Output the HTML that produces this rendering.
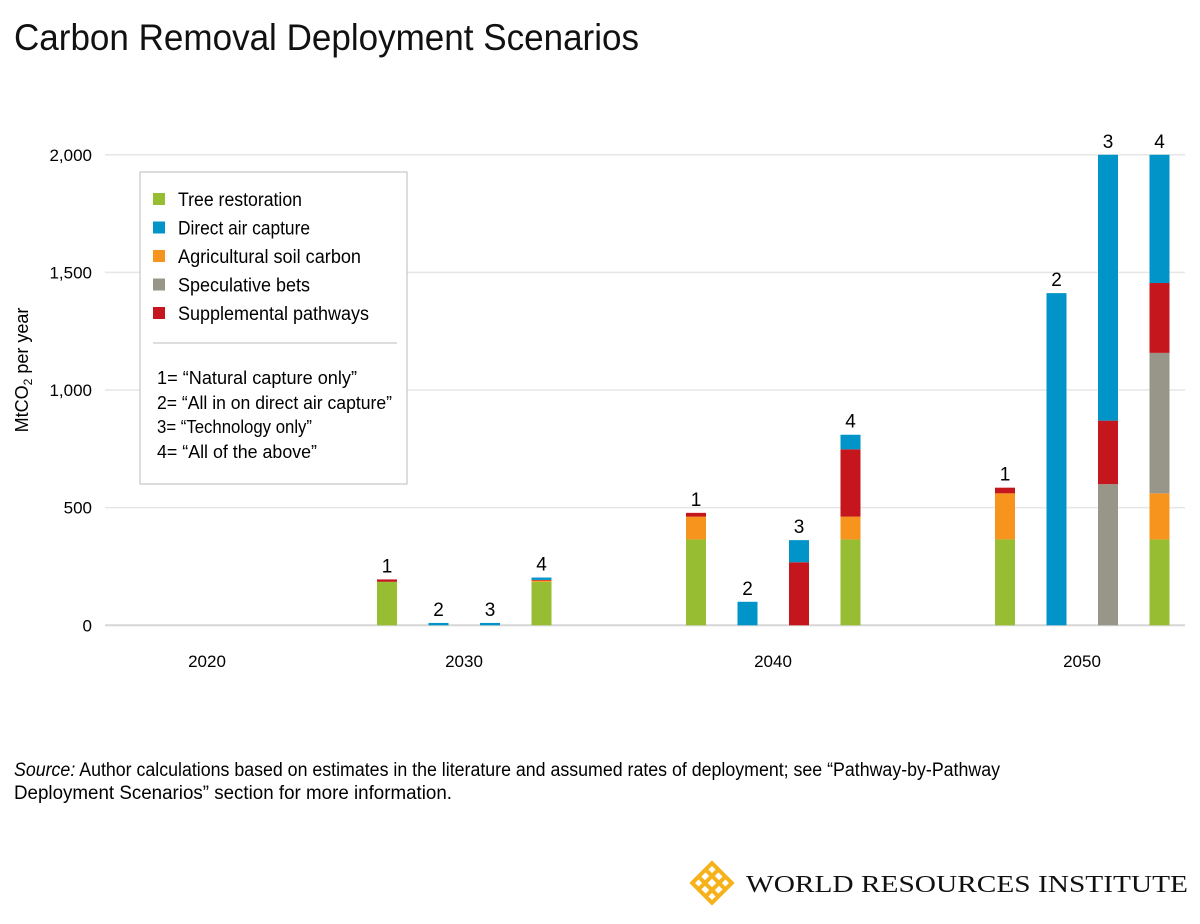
<!DOCTYPE html>
<html><head><meta charset="utf-8"><style>
body{margin:0;background:#fff;font-family:"Liberation Sans",sans-serif;color:#111}
#wrap{position:relative;width:1200px;height:924px;overflow:hidden}
</style></head><body>
<div id="wrap">
<svg id="chart" width="1200" height="924" font-family="Liberation Sans, sans-serif">
<text x="14" y="50" font-size="37" fill="#111" textLength="625" lengthAdjust="spacingAndGlyphs">Carbon Removal Deployment Scenarios</text>
<g id="grid"></g><g id="bars"></g><g id="labels"></g>
<text transform="translate(28,370) rotate(-90)" font-size="18" text-anchor="middle">MtCO<tspan font-size="12" dy="4">2</tspan><tspan dy="-4"> per year</tspan></text>
<g>
<rect x="140" y="172" width="267" height="312" fill="#fff" stroke="#bbb" stroke-width="1"/>
<g id="legend-items"></g>
<line x1="153" y1="343" x2="397" y2="343" stroke="#bbb"/>
<g font-size="18">
<text x="157" y="384" textLength="200" lengthAdjust="spacingAndGlyphs">1= “Natural capture only”</text>
<text x="157" y="409" textLength="235" lengthAdjust="spacingAndGlyphs">2= “All in on direct air capture”</text>
<text x="157" y="433" textLength="155" lengthAdjust="spacingAndGlyphs">3= “Technology only”</text>
<text x="157" y="458" textLength="160" lengthAdjust="spacingAndGlyphs">4= “All of the above”</text>
</g></g>
<text x="14" y="776" font-size="19" textLength="986" lengthAdjust="spacingAndGlyphs"><tspan font-style="italic">Source:</tspan> Author calculations based on estimates in the literature and assumed rates of deployment; see “Pathway-by-Pathway</text>
<text x="14" y="799" font-size="19" textLength="438" lengthAdjust="spacingAndGlyphs">Deployment Scenarios” section for more information.</text>
<g>
<g transform="translate(712,883) rotate(45)" fill="none" stroke="#f5b21a" stroke-width="4">
<rect x="-14" y="-14" width="28" height="28"/><line x1="-14" y1="-5" x2="14" y2="-5"/><line x1="-14" y1="5" x2="14" y2="5"/><line x1="-5" y1="-14" x2="-5" y2="14"/><line x1="5" y1="-14" x2="5" y2="14"/>
</g>
<text x="746" y="892" font-family="Liberation Serif, serif" font-size="24" textLength="442" lengthAdjust="spacingAndGlyphs" fill="#111">WORLD RESOURCES INSTITUTE</text>
</g>
</svg></div>
<script>
const years=["2020","2030","2040","2050"];
const yTicks=[0,500,1000,1500,2000];
const seriesNames=["Tree restoration","Direct air capture","Agricultural soil carbon","Speculative bets","Supplemental pathways"];
const seriesColors=["#97bd33","#0094c8","#f7941e","#979689","#c4161c"];
const scenarioLabels=["1","2","3","4"];
const treeVals=[[0,0,0,0],[185,0,0,185],[365,0,0,365],[365,0,0,365]];
const agVals=[[0,0,0,0],[0,0,0,5],[97,0,0,97],[196,0,0,196]];
const specVals=[[0,0,0,0],[0,0,0,0],[0,0,0,0],[0,0,600,597]];
const suppVals=[[0,0,0,0],[10,0,0,3],[16,0,268,286],[24,0,270,297]];
const dacVals=[[0,0,0,0],[0,10,10,10],[0,100,94,62],[0,1412,1130,545]];
const S="http://www.w3.org/2000/svg";
const x0=105,x1=1185,yBase=625.3,yMax=2000,yTop=154.8;
const y=v=>yBase-(v/yMax)*(yBase-yTop);
const groupStart=i=>377+(i-1)*309;
const barX=(g,b)=>groupStart(g)+b*51.5;
const yearX=i=>i===0?207:groupStart(i)+87;
function mk(t,a,p){const e=document.createElementNS(S,t);for(const k in a)e.setAttribute(k,a[k]);p.appendChild(e);return e;}
const grid=document.getElementById('grid'),bars=document.getElementById('bars'),labels=document.getElementById('labels');
yTicks.forEach(v=>{
const l=mk('line',{x1:x0,x2:x1,y1:y(v),y2:y(v),stroke:v===0?'#d6d6d6':'#e6e6e6','stroke-width':v===0?2:1.5},grid);


const t=mk('text',{x:92,y:y(v)+6,'text-anchor':'end','font-size':17},grid);t.textContent=v.toLocaleString('en-US');


});
years.forEach((yr,i)=>{
const t=mk('text',{x:yearX(i),y:667,'text-anchor':'middle','font-size':17},labels);t.textContent=yr;


});
const stack=[[treeVals,0],[agVals,2],[specVals,3],[suppVals,4],[dacVals,1]];
for(let g=1;g<years.length;g++){
for(let b=0;b<4;b++){
let acc=0;const bx=barX(g,b);
stack.forEach(([arr,ci])=>{const v=arr[g][b];if(v<=0)return;
const r=mk('rect',{x:bx,y:y(acc+v),width:20,height:y(acc)-y(acc+v),fill:seriesColors[ci]},bars);


acc+=v;});
if(acc>0){const t=mk('text',{x:bx+10,y:y(acc)-7,'text-anchor':'middle','font-size':19},labels);t.textContent=scenarioLabels[b];

}
}}
const li=document.getElementById('legend-items');
const legendLens=[124,132,183,132,191];
seriesNames.forEach((n,i)=>{
const yy=199+i*28.5;
const r=mk('rect',{x:153,y:yy-6,width:12,height:12,fill:seriesColors[i]},li);


const t=mk('text',{x:178,y:yy+7,'font-size':19,textLength:legendLens[i],lengthAdjust:'spacingAndGlyphs'},li);t.textContent=n;


});
</script>
</body></html>
